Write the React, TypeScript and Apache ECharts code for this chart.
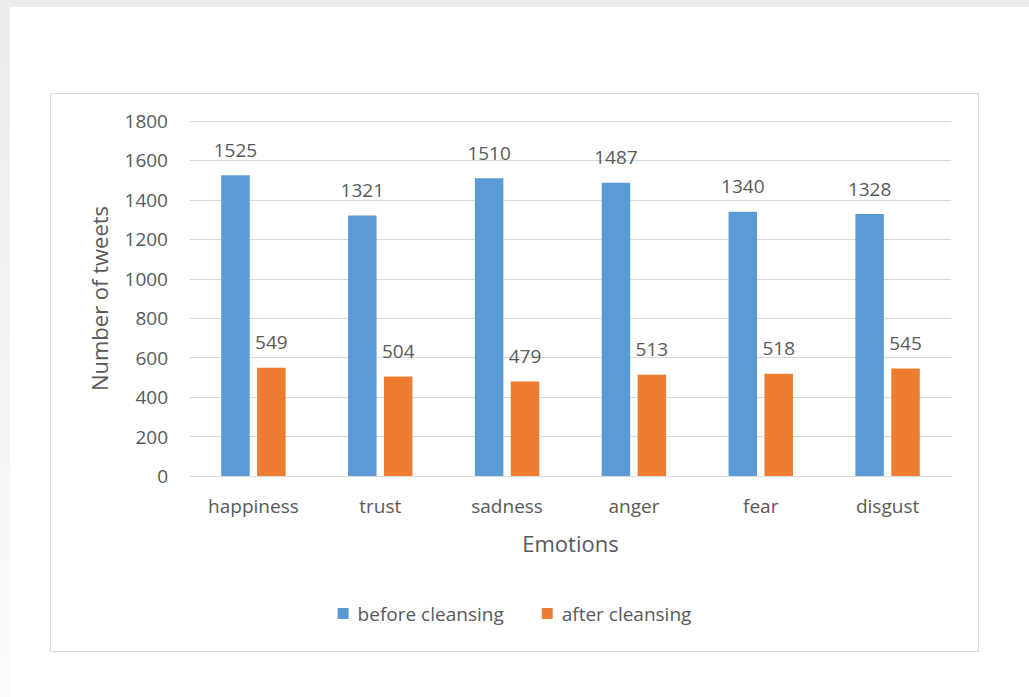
import React, { useEffect, useRef } from "react";
import * as echarts from "echarts";

const emotions = ["happiness", "trust", "sadness", "anger", "fear", "disgust"];
const beforeCleansing = [1525, 1321, 1510, 1487, 1340, 1328];
const afterCleansing = [549, 504, 479, 513, 518, 545];
const seriesNames = ["before cleansing", "after cleansing"];

const FONT = "'Open Sans', sans-serif";
const TEXT = "#595959";
const GRID_LINE = "#d9d9d9";

export default function App() {
  const ref = useRef<HTMLDivElement>(null);

  useEffect(() => {
    if (!ref.current) return;
    const chart = echarts.init(ref.current, undefined, { renderer: "svg" });

    const label = {
      show: true,
      position: "top" as const,
      distance: 16,
      color: TEXT,
      fontFamily: FONT,
      fontSize: 19,
    };

    chart.setOption({
      animation: false,
      backgroundColor: "#ffffff",
      textStyle: { fontFamily: FONT },
      graphic: [
        // soft page edges
        {
          type: "rect",
          shape: { x: 0, y: 0, width: 1029, height: 7 },
          style: { fill: "#ececec" },
          silent: true,
        },
        {
          type: "rect",
          shape: { x: 0, y: 0, width: 10, height: 697 },
          style: {
            fill: new echarts.graphic.LinearGradient(0, 0, 0, 1, [
              { offset: 0, color: "#ececec" },
              { offset: 1, color: "#fbfbfb" },
            ]),
          },
          silent: true,
        },
        // chart frame
        {
          type: "rect",
          shape: { x: 50.5, y: 93.5, width: 928, height: 558 },
          style: { fill: "none", stroke: GRID_LINE, lineWidth: 1 },
          silent: true,
        },
      ],
      grid: { left: 190, right: 78, top: 121, bottom: 221 },
      legend: {
        data: seriesNames,
        bottom: 69,
        left: "center",
        icon: "rect",
        itemWidth: 11,
        itemHeight: 11,
        itemGap: 38,
        textStyle: {
          color: TEXT,
          fontFamily: FONT,
          fontSize: 19,
          padding: [0, 0, 0, 4],
        },
      },
      xAxis: {
        type: "category",
        data: emotions,
        name: "Emotions",
        nameLocation: "middle",
        nameGap: 56,
        nameTextStyle: { color: TEXT, fontFamily: FONT, fontSize: 22 },
        axisLine: { lineStyle: { color: GRID_LINE, width: 1 } },
        axisTick: { show: false },
        axisLabel: {
          color: TEXT,
          fontFamily: FONT,
          fontSize: 19,
          margin: 20,
        },
      },
      yAxis: {
        type: "value",
        min: 0,
        max: 1800,
        interval: 200,
        name: "Number of tweets",
        nameLocation: "middle",
        nameGap: 80,
        nameTextStyle: { color: TEXT, fontFamily: FONT, fontSize: 22 },
        axisLine: { show: false },
        axisTick: { show: false },
        axisLabel: {
          color: TEXT,
          fontFamily: FONT,
          fontSize: 19,
          margin: 22,
          formatter: (v: number) => String(v),
        },
        splitLine: { lineStyle: { color: GRID_LINE, width: 1 } },
      },
      series: [
        {
          name: seriesNames[0],
          type: "bar",
          data: beforeCleansing,
          barWidth: 28.5,
          barGap: "26%",
          itemStyle: { color: "#5b9bd5" },
          label,
        },
        {
          name: seriesNames[1],
          type: "bar",
          data: afterCleansing,
          barWidth: 28.5,
          itemStyle: { color: "#ed7d31" },
          label,
        },
      ],
    });

    return () => chart.dispose();
  }, []);

  return (
    <div
      ref={ref}
      style={{ position: "absolute", left: 0, top: 0, width: 1029, height: 697 }}
    />
  );
}
